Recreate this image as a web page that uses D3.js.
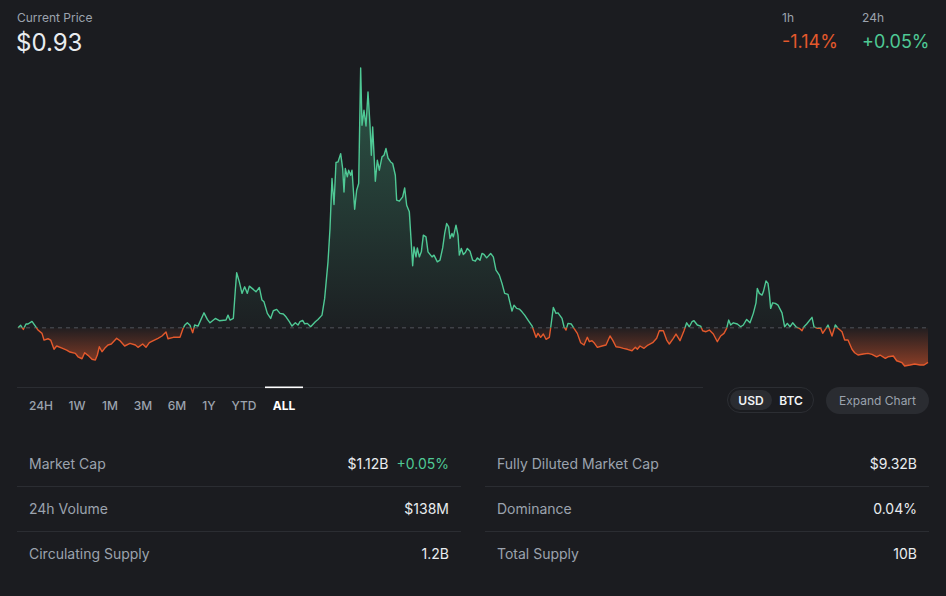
<!DOCTYPE html>
<html><head><meta charset="utf-8">
<script src="https://cdn.jsdelivr.net/npm/d3@7"></script>
<style>
html,body{margin:0;padding:0;background:#1b1c20;}
svg{display:block;font-family:Inter,"Noto Sans",sans-serif;}
</style></head>
<body><svg id="c" width="946" height="596"></svg>
<script>
// ---- data (days since start, price USD) ----
const days = [0,4,8,12,15,21,26,30,36,39,45,49,54,58,66,73,78,86,90,96,100,105,111,116,119,122,126,130,135,140,148,153,160,168,176,180,187,192,197,203,210,216,222,225,233,243,247,250,254,258,262,265,270,279,284,288,296,302,312,315,318,323,326,328,332,336,340,344,347,353,357,362,366,369,374,379,383,388,393,398,402,407,411,416,420,423,427,430,434,439,446,450,456,460,465,468,471,474,477,480,484,487,489,491,494,496,499,501,505,508,511,514,516,519,522,525,528,530,532,536,539,542,546,549,552,555,559,562,566,568,572,577,580,583,587,592,594,597,599,602,605,608,612,615,621,624,629,633,637,640,643,646,648,651,653,657,660,662,665,668,671,674,678,682,686,689,693,696,699,703,709,713,717,722,726,730,735,741,744,748,752,756,760,765,771,777,780,784,788,792,797,799,803,807,810,816,819,822,825,830,834,839,844,849,854,857,861,864,869,876,882,888,892,897,903,908,914,921,926,929,933,939,945,952,958,962,968,973,977,983,987,993,999,1003,1007,1011,1014,1019,1024,1027,1032,1037,1043,1049,1054,1059,1063,1066,1069,1073,1079,1084,1088,1093,1098,1103,1107,1109,1112,1116,1118,1122,1125,1127,1129,1132,1136,1140,1146,1150,1154,1158,1162,1167,1172,1176,1179,1183,1191,1194,1199,1204,1207,1212,1215,1221,1226,1230,1236,1240,1245,1251,1255,1260,1268,1275,1281,1288,1293,1301,1305,1313,1318,1326,1330,1338,1345,1353,1359,1365];
const prices = [1.250,1.272,1.235,1.284,1.284,1.308,1.265,1.229,1.199,1.138,1.150,1.138,1.054,1.084,1.065,1.047,1.029,1.017,0.986,0.968,1.023,0.999,0.963,0.956,1.002,1.077,1.032,1.063,1.093,1.102,1.154,1.132,1.084,1.108,1.093,1.072,1.102,1.072,1.114,1.132,1.154,1.175,1.211,1.150,1.163,1.163,1.235,1.272,1.295,1.272,1.205,1.275,1.265,1.386,1.326,1.295,1.335,1.314,1.320,1.365,1.320,1.335,1.593,1.750,1.668,1.563,1.623,1.563,1.629,1.599,1.577,1.617,1.502,1.486,1.381,1.335,1.405,1.417,1.381,1.375,1.350,1.305,1.265,1.295,1.275,1.305,1.317,1.286,1.290,1.259,1.305,1.326,1.365,1.517,1.850,2.154,2.608,2.372,2.754,2.759,2.835,2.699,2.486,2.699,2.623,2.684,2.638,2.684,2.329,2.502,2.563,3.614,3.093,3.229,3.086,3.395,3.093,2.820,3.077,2.584,2.775,2.684,2.805,2.820,2.881,2.795,2.759,2.745,2.638,2.411,2.402,2.441,2.523,2.365,2.305,1.814,1.986,1.895,1.977,1.895,1.941,2.093,2.077,1.941,1.895,1.911,1.850,1.865,1.977,2.108,2.199,2.168,2.063,2.108,2.077,2.184,2.093,1.911,1.972,1.917,1.935,1.972,1.947,1.865,1.856,1.886,1.865,1.926,1.917,1.886,1.926,1.895,1.775,1.729,1.654,1.563,1.554,1.402,1.456,1.426,1.420,1.395,1.365,1.320,1.268,1.163,1.199,1.163,1.193,1.145,1.163,1.250,1.435,1.381,1.386,1.335,1.259,1.229,1.290,1.284,1.245,1.199,1.114,1.093,1.163,1.123,1.132,1.114,1.072,1.084,1.093,1.175,1.138,1.077,1.072,1.063,1.054,1.041,1.072,1.054,1.084,1.063,1.093,1.114,1.154,1.223,1.223,1.138,1.102,1.154,1.193,1.132,1.223,1.295,1.259,1.305,1.314,1.275,1.265,1.223,1.214,1.229,1.193,1.123,1.175,1.199,1.245,1.320,1.275,1.295,1.284,1.259,1.275,1.326,1.295,1.381,1.477,1.608,1.563,1.547,1.577,1.677,1.654,1.563,1.426,1.477,1.472,1.456,1.386,1.259,1.290,1.259,1.295,1.259,1.245,1.223,1.259,1.284,1.345,1.259,1.245,1.245,1.199,1.245,1.275,1.175,1.275,1.245,1.214,1.138,1.138,1.054,1.023,1.002,1.011,1.017,1.008,0.986,1.002,0.972,0.986,0.993,0.950,0.932,0.902,0.911,0.920,0.911,0.911,0.935];

const rangeTabs = ["24H","1W","1M","3M","6M","1Y","YTD","ALL"];
const activeTab = "ALL";
const currencies = ["USD","BTC"];
const changeLabels = ["1h","24h"];
const changeValues = [-1.14, 0.05];
const statsLeft = [["Market Cap","$1.12B","+0.05%"],["24h Volume","$138M",null],["Circulating Supply","1.2B",null]];
const statsRight = [["Fully Diluted Market Cap","$9.32B",null],["Dominance","0.04%",null],["Total Supply","10B",null]];
const currentPrice = "$0.93";

// ---- styles ----
const BG="#1b1c20", GREEN="#4fc995", RED="#e4592c", GRAY="#9ba3ae", WHITE="#e9ecef", LINE="#2b2d32";

const svg = d3.select("#c");
svg.append("rect").attr("width",946).attr("height",596).attr("fill",BG);

const data = days.map((d,i)=>({d, p:prices[i]}));
const base = prices[0];
const x = d3.scaleLinear().domain(d3.extent(days)).range([18,928]);
const y = d3.scaleLinear().domain(d3.extent(prices)).range([366,68]);
const by = y(base);

const defs = svg.append("defs");
defs.append("clipPath").attr("id","above").append("rect").attr("x",0).attr("y",0).attr("width",946).attr("height",by);
defs.append("clipPath").attr("id","below").append("rect").attr("x",0).attr("y",by).attr("width",946).attr("height",596-by);
const gG = defs.append("linearGradient").attr("id","gG").attr("gradientUnits","userSpaceOnUse").attr("x1",0).attr("x2",0).attr("y1",y.range()[1]).attr("y2",by);
gG.append("stop").attr("offset",0).attr("stop-color",GREEN).attr("stop-opacity",0.34);
gG.append("stop").attr("offset",1).attr("stop-color",GREEN).attr("stop-opacity",0.02);
const gR = defs.append("linearGradient").attr("id","gR").attr("gradientUnits","userSpaceOnUse").attr("x1",0).attr("x2",0).attr("y1",by).attr("y2",y.range()[0]);
gR.append("stop").attr("offset",0).attr("stop-color",RED).attr("stop-opacity",0.03);
gR.append("stop").attr("offset",1).attr("stop-color",RED).attr("stop-opacity",0.55);

const area = d3.area().x(d=>x(d.d)).y0(by).y1(d=>y(d.p));
const line = d3.line().x(d=>x(d.d)).y(d=>y(d.p));

svg.append("path").datum(data).attr("d",area).attr("fill","url(#gG)").attr("clip-path","url(#above)");
svg.append("path").datum(data).attr("d",area).attr("fill","url(#gR)").attr("clip-path","url(#below)");
svg.append("line").attr("x1",x.range()[0]).attr("x2",x.range()[1]).attr("y1",by).attr("y2",by)
  .attr("stroke","#3f4147").attr("stroke-width",1.3).attr("stroke-dasharray","4,4");
svg.append("path").datum(data).attr("d",line).attr("fill","none").attr("stroke",GREEN).attr("stroke-width",1.4).attr("stroke-linejoin","round").attr("clip-path","url(#above)");
svg.append("path").datum(data).attr("d",line).attr("fill","none").attr("stroke",RED).attr("stroke-width",1.4).attr("stroke-linejoin","round").attr("clip-path","url(#below)");

// ---- header ----
svg.append("text").attr("x",17).attr("y",22).attr("fill",GRAY).attr("font-size",12).text("Current Price");
svg.append("text").attr("x",16).attr("y",51).attr("fill",WHITE).attr("font-size",24).text(currentPrice);
const chX = [782,862];
changeLabels.forEach((l,i)=>{
  svg.append("text").attr("x",chX[i]).attr("y",22).attr("fill",GRAY).attr("font-size",12).text(l);
  const v = changeValues[i];
  svg.append("text").attr("x",chX[i]).attr("y",48).attr("fill",v<0?RED:GREEN).attr("font-size",18)
    .text((v<0?"-":"+")+Math.abs(v).toFixed(2)+"%");
});

// ---- tabs ----
svg.append("line").attr("x1",17).attr("x2",703).attr("y1",387.5).attr("y2",387.5).attr("stroke",LINE).attr("stroke-width",1);
const tabX = [41,77,110,143,177,209,244,284];
rangeTabs.forEach((t,i)=>{
  const act = t===activeTab;
  svg.append("text").attr("x",tabX[i]).attr("y",410).attr("text-anchor","middle").attr("font-size",12)
    .attr("font-weight",act?700:500).attr("fill",act?"#ffffff":GRAY).text(t);
  if(act) svg.append("rect").attr("x",tabX[i]-19).attr("y",386.5).attr("width",38).attr("height",1.6).attr("fill","#ffffff");
});

// currency toggle
svg.append("rect").attr("x",727.5).attr("y",387.5).attr("width",86).attr("height",25).attr("rx",12.5).attr("fill",BG).attr("stroke","#2c2e33");
svg.append("rect").attr("x",730).attr("y",390).attr("width",42).attr("height",20).attr("rx",10).attr("fill","#2a2c31");
const curX=[751,791];
currencies.forEach((c,i)=>svg.append("text").attr("x",curX[i]).attr("y",404.5).attr("text-anchor","middle")
  .attr("font-size",12).attr("font-weight",600).attr("fill","#f1f3f5").text(c));
svg.append("rect").attr("x",826).attr("y",387).attr("width",103).attr("height",27).attr("rx",13.5).attr("fill","#2a2c31");
svg.append("text").attr("x",877.5).attr("y",405).attr("text-anchor","middle").attr("font-size",12).attr("fill",GRAY).text("Expand Chart");

// ---- stats ----
const rowY=[469,514,559];
function stats(rows,x0,x1){
  rows.forEach((r,i)=>{
    svg.append("text").attr("x",x0+12).attr("y",rowY[i]).attr("font-size",14).attr("fill",GRAY).text(r[0]);
    if(r[2]){
      const t = svg.append("text").attr("x",x1-12).attr("y",rowY[i]).attr("text-anchor","end").attr("font-size",14);
      t.append("tspan").attr("fill",WHITE).text(r[1]);
      t.append("tspan").attr("fill",GREEN).attr("dx",8).text(r[2]);
    } else {
      svg.append("text").attr("x",x1-12).attr("y",rowY[i]).attr("text-anchor","end").attr("font-size",14).attr("fill",WHITE).text(r[1]);
    }
    if(i<rows.length-1) svg.append("line").attr("x1",x0).attr("x2",x1).attr("y1",rowY[i]+17.5).attr("y2",rowY[i]+17.5).attr("stroke",LINE);
  });
}
stats(statsLeft,17,461);
stats(statsRight,485,929);
</script></body></html>
